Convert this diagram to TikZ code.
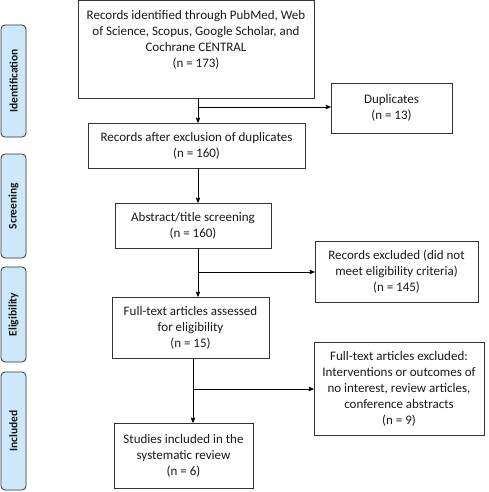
\documentclass[tikz,border=0pt]{standalone}
\usepackage{fontspec}
\setmainfont{Carlito}
\usepackage{tikz}
\usetikzlibrary{arrows}
\definecolor{colorPhase}{RGB}{204,232,250}
\colorlet{colorLine}{black!80}
\tikzset{
  box/.style={draw=colorLine, rectangle, inner sep=0pt, align=center, font=\fontsize{13}{16}\selectfont},
  boxtext/.style={inner sep=0pt, align=center, font=\fontsize{13}{16}\selectfont},
  phase/.style={draw=colorLine, fill=colorPhase, rounded corners=4pt, rotate=90, minimum height=25, inner sep=0pt, font=\bfseries\fontsize{11.5}{13}\selectfont}
}

\begin{document}
\begin{tikzpicture}[x=1pt, y=-1pt, >=stealth', line width=0.8pt, text=black!90]
\useasboundingbox (0,0) rectangle (489,492);
% phases
\node[phase, minimum width=112] (p1) at (13.5,81) {Identification};
\node[phase, minimum width=104] (p2) at (13.5,206) {Screening};
\node[phase, minimum width=95] (p3) at (13.5,314.5) {Eligibility};
\node[phase, minimum width=118] (p4) at (13.5,431) {Included};
% main column
\node[box, minimum width=236, minimum height=98] (q1) at (196,49.5) {};
\node[boxtext] (q1t) at (196,39.5) {Records identified through PubMed, Web\\of Science, Scopus, Google Scholar, and\\Cochrane CENTRAL\\(n = 173)};
\node[box, minimum width=217, minimum height=45] (q2) at (196.5,145.5) {Records after exclusion of duplicates\\(n = 160)};
\node[box, minimum width=156, minimum height=45] (q3) at (193,225.5) {Abstract/title screening\\(n = 160)};
\node[box, minimum width=157, minimum height=61] (q4) at (190.5,327.5) {Full-text articles assessed\\for eligibility\\(n = 15)};
\node[box, minimum width=139, minimum height=65] (q5) at (183.5,455.5) {Studies included in the\\systematic review\\(n = 6)};
% excluded column
\node[box, minimum width=121, minimum height=50] (x1) at (391.5,108) {Duplicates\\(n = 13)};
\node[box, minimum width=163, minimum height=61] (x2) at (396.5,271.5) {Records excluded (did not\\meet eligibility criteria)\\(n = 145)};
\node[box, minimum width=170, minimum height=93] (x3) at (399,388.5) {Full-text articles excluded:\\Interventions or outcomes of\\no interest, review articles,\\conference abstracts\\(n = 9)};
% arrows
\coordinate (b1) at (198,107);
\coordinate (b3) at (198,272);
\coordinate (b4) at (193,389);
\draw[->] (b1 |- q1.south) -- (b1 |- q2.north);
\draw[->] (b1) -- (b1 -| x1.west);
\draw[->] (b1 |- q2.south) -- (b1 |- q3.north);
\draw[->] (b3 |- q3.south) -- (b3 |- q4.north);
\draw[->] (b3) -- (b3 -| x2.west);
\draw[->] (b4 |- q4.south) -- (b4 |- q5.north);
\draw[->] (b4) -- (b4 -| x3.west);
\end{tikzpicture}
\end{document}
